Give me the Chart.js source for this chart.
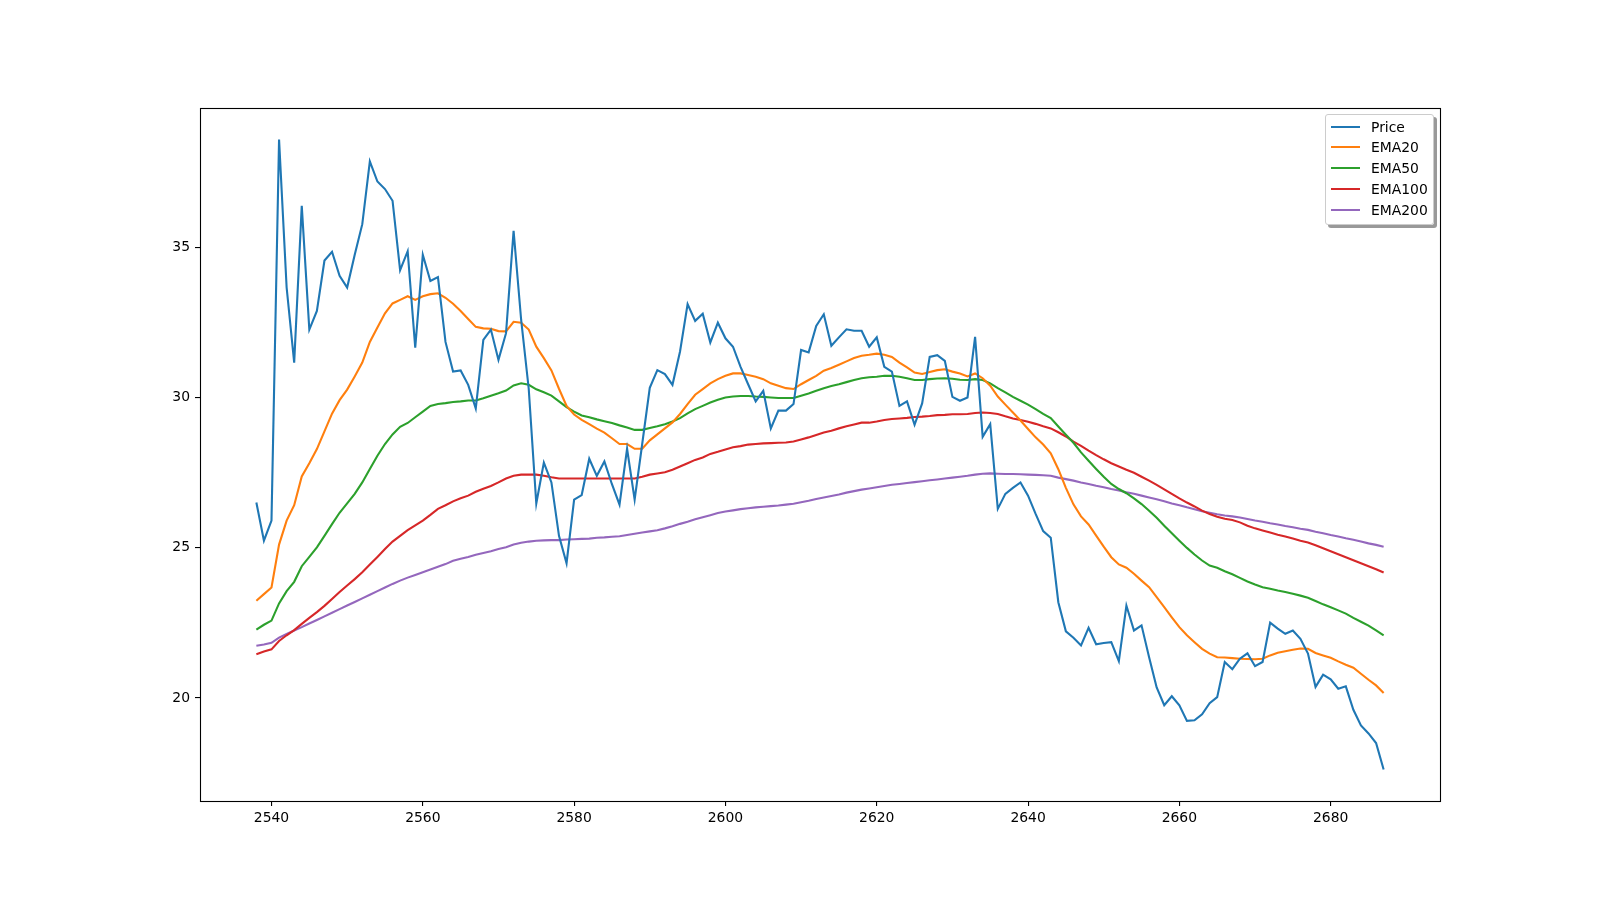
<!DOCTYPE html>
<html>
<head>
<meta charset="utf-8">
<script src="https://cdn.jsdelivr.net/npm/chart.js@4.4.0/dist/chart.umd.min.js"></script>
<style>
html,body{margin:0;padding:0;background:#fff;}
#wrap{position:relative;width:1600px;height:900px;}
#legend{position:absolute;left:1325px;top:114px;width:107px;height:109px;background:rgba(255,255,255,0.8);border:1px solid #cccccc;border-radius:3px;box-shadow:3px 3px 0 rgba(0,0,0,0.4);font-family:"DejaVu Sans";font-size:13.9px;color:#000;}
.row{position:absolute;left:0;height:20px;line-height:20px;width:100%;}
.sw{position:absolute;left:5px;top:9px;width:29px;height:2px;}
.lbl{position:absolute;left:45px;top:0;white-space:nowrap;}
</style>
</head>
<body>
<div id="wrap">
<canvas id="c" width="1600" height="900"></canvas>
<div id="legend"></div>
</div>
<script>
const dates = [
2538,2539,2540,2541,2542,2543,2544,2545,2546,2547,
2548,2549,2550,2551,2552,2553,2554,2555,2556,2557,
2558,2559,2560,2561,2562,2563,2564,2565,2566,2567,
2568,2569,2570,2571,2572,2573,2574,2575,2576,2577,
2578,2579,2580,2581,2582,2583,2584,2585,2586,2587,
2588,2589,2590,2591,2592,2593,2594,2595,2596,2597,
2598,2599,2600,2601,2602,2603,2604,2605,2606,2607,
2608,2609,2610,2611,2612,2613,2614,2615,2616,2617,
2618,2619,2620,2621,2622,2623,2624,2625,2626,2627,
2628,2629,2630,2631,2632,2633,2634,2635,2636,2637,
2638,2639,2640,2641,2642,2643,2644,2645,2646,2647,
2648,2649,2650,2651,2652,2653,2654,2655,2656,2657,
2658,2659,2660,2661,2662,2663,2664,2665,2666,2667,
2668,2669,2670,2671,2672,2673,2674,2675,2676,2677,
2678,2679,2680,2681,2682,2683,2684,2685,2686,2687];

const price = [
26.51,25.24,25.91,38.60,33.67,31.17,36.39,32.27,32.89,34.57,
34.86,34.06,33.67,34.76,35.78,37.87,37.20,36.95,36.56,34.25,
34.88,31.67,34.76,33.89,34.02,31.86,30.87,30.91,30.43,29.64,
31.93,32.27,31.26,32.15,35.56,32.59,30.30,26.48,27.84,27.18,
25.40,24.49,26.61,26.76,27.97,27.40,27.88,27.12,26.44,28.30,
26.61,28.46,30.33,30.92,30.79,30.43,31.54,33.12,32.56,32.80,
31.84,32.50,31.98,31.70,31.03,30.45,29.88,30.23,28.98,29.57,
29.57,29.79,31.59,31.51,32.39,32.78,31.73,32.01,32.28,32.23,
32.23,31.70,32.01,31.03,30.87,29.73,29.88,29.10,29.81,31.36,
31.42,31.23,30.03,29.90,30.01,32.03,28.70,29.12,26.30,26.80,
27.00,27.18,26.74,26.13,25.56,25.34,23.19,22.22,22.01,21.75,
22.34,21.79,21.83,21.86,21.23,23.08,22.25,22.42,21.36,20.35,
19.76,20.06,19.76,19.24,19.26,19.46,19.83,20.03,21.20,20.96,
21.31,21.49,21.06,21.20,22.51,22.31,22.14,22.25,21.97,21.48,
20.37,20.78,20.62,20.31,20.39,19.61,19.09,18.82,18.50,17.62];

const ema20 = [
23.24,23.46,23.68,25.11,25.91,26.42,27.38,27.82,28.29,28.88,
29.47,29.92,30.27,30.71,31.17,31.86,32.34,32.81,33.14,33.26,
33.38,33.26,33.38,33.45,33.48,33.33,33.13,32.89,32.62,32.36,
32.31,32.30,32.22,32.21,32.53,32.50,32.27,31.70,31.32,30.91,
30.30,29.73,29.44,29.26,29.12,28.97,28.84,28.65,28.46,28.46,
28.30,28.30,28.58,28.78,28.98,29.18,29.46,29.79,30.10,30.29,
30.48,30.62,30.73,30.81,30.81,30.76,30.70,30.62,30.48,30.40,
30.32,30.29,30.45,30.59,30.73,30.90,30.99,31.10,31.21,31.32,
31.40,31.43,31.47,31.43,31.36,31.17,31.01,30.84,30.79,30.86,
30.92,30.95,30.87,30.81,30.71,30.81,30.65,30.40,30.04,29.77,
29.51,29.24,28.96,28.68,28.44,28.15,27.62,27.00,26.45,26.05,
25.78,25.41,25.04,24.69,24.45,24.34,24.14,23.91,23.69,23.36,
23.03,22.69,22.36,22.09,21.86,21.64,21.48,21.36,21.35,21.33,
21.31,21.30,21.29,21.31,21.42,21.51,21.56,21.61,21.65,21.64,
21.50,21.42,21.34,21.22,21.11,21.01,20.81,20.61,20.42,20.17];

const ema50 = [
22.28,22.44,22.58,23.15,23.56,23.87,24.39,24.70,25.02,25.40,
25.79,26.17,26.48,26.80,27.18,27.63,28.07,28.46,28.78,29.03,
29.16,29.35,29.54,29.73,29.79,29.82,29.86,29.88,29.91,29.91,
29.98,30.07,30.15,30.24,30.41,30.48,30.43,30.28,30.18,30.07,
29.88,29.69,29.54,29.41,29.35,29.28,29.22,29.16,29.08,29.01,
28.93,28.93,28.99,29.05,29.12,29.21,29.32,29.48,29.62,29.73,
29.84,29.93,30.01,30.04,30.06,30.06,30.04,30.03,30.01,29.99,
29.99,29.99,30.07,30.14,30.23,30.32,30.39,30.45,30.52,30.59,
30.65,30.68,30.70,30.73,30.73,30.70,30.65,30.59,30.59,30.62,
30.64,30.65,30.63,30.60,30.59,30.62,30.59,30.48,30.32,30.18,
30.03,29.90,29.77,29.62,29.46,29.32,29.04,28.77,28.50,28.18,
27.90,27.63,27.37,27.13,26.96,26.82,26.65,26.46,26.24,26.00,
25.74,25.49,25.24,25.00,24.78,24.58,24.41,24.34,24.22,24.12,
24.00,23.88,23.78,23.69,23.64,23.58,23.53,23.47,23.41,23.34,
23.23,23.12,23.02,22.92,22.81,22.67,22.54,22.41,22.25,22.09];

const ema100 = [
21.46,21.55,21.62,21.90,22.09,22.26,22.47,22.67,22.86,23.07,
23.30,23.53,23.75,23.96,24.19,24.45,24.70,24.96,25.21,25.40,
25.59,25.75,25.91,26.10,26.30,26.42,26.55,26.65,26.74,26.87,
26.97,27.06,27.18,27.31,27.40,27.44,27.44,27.44,27.40,27.35,
27.31,27.31,27.31,27.31,27.31,27.31,27.31,27.31,27.31,27.31,
27.31,27.37,27.44,27.48,27.52,27.60,27.71,27.82,27.93,28.01,
28.13,28.20,28.28,28.35,28.39,28.44,28.46,28.48,28.49,28.50,
28.51,28.54,28.61,28.68,28.76,28.84,28.90,28.98,29.05,29.11,
29.17,29.17,29.21,29.26,29.29,29.31,29.33,29.36,29.37,29.39,
29.42,29.43,29.45,29.45,29.46,29.49,29.51,29.49,29.46,29.38,
29.31,29.26,29.20,29.13,29.05,28.98,28.85,28.71,28.54,28.40,
28.24,28.09,27.95,27.82,27.71,27.60,27.50,27.37,27.24,27.10,
26.95,26.80,26.65,26.51,26.38,26.24,26.13,26.04,25.97,25.93,
25.85,25.74,25.65,25.58,25.51,25.44,25.38,25.31,25.24,25.18,
25.09,24.99,24.89,24.79,24.69,24.59,24.49,24.39,24.29,24.18];

const ema200 = [
21.74,21.78,21.84,22.01,22.13,22.25,22.36,22.48,22.60,22.72,
22.84,22.96,23.08,23.20,23.32,23.44,23.56,23.68,23.80,23.91,
24.01,24.10,24.19,24.28,24.37,24.46,24.57,24.64,24.70,24.77,
24.83,24.89,24.96,25.02,25.11,25.17,25.21,25.24,25.25,25.26,
25.26,25.28,25.29,25.30,25.31,25.34,25.35,25.37,25.39,25.43,
25.47,25.51,25.55,25.59,25.65,25.72,25.80,25.87,25.95,26.02,
26.09,26.16,26.21,26.25,26.29,26.32,26.35,26.37,26.39,26.41,
26.44,26.47,26.52,26.57,26.63,26.68,26.73,26.78,26.84,26.89,
26.94,26.98,27.02,27.06,27.10,27.13,27.16,27.19,27.22,27.25,
27.28,27.31,27.34,27.37,27.40,27.44,27.47,27.48,27.47,27.46,
27.46,27.45,27.44,27.43,27.42,27.40,27.34,27.29,27.24,27.18,
27.13,27.07,27.02,26.96,26.91,26.85,26.80,26.74,26.68,26.62,
26.55,26.48,26.42,26.35,26.29,26.22,26.17,26.12,26.08,26.05,
26.01,25.96,25.91,25.87,25.82,25.78,25.73,25.69,25.64,25.60,
25.54,25.49,25.43,25.38,25.32,25.27,25.21,25.15,25.10,25.04];

const seriesNames = ["Price", "EMA20", "EMA50", "EMA100", "EMA200"];
const seriesValues = [price, ema20, ema50, ema100, ema200];
const seriesColors = ["#1f77b4", "#ff7f0e", "#2ca02c", "#d62728", "#9467bd"];

const xTicks = [2540, 2560, 2580, 2600, 2620, 2640, 2660, 2680];
const yTicks = [20, 25, 30, 35];

// axis limits like matplotlib: data range plus 5% margins
const xMinData = Math.min(...dates), xMaxData = Math.max(...dates);
const xPad = (xMaxData - xMinData) * 0.05;
const allY = [].concat(...seriesValues);
const yMinData = Math.min(...allY), yMaxData = Math.max(...allY);
const yPad = (yMaxData - yMinData) * 0.05;

const FONT = "DejaVu Sans";
const FS = 13.9;

const frame = {
  id: 'frame',
  afterDatasetsDraw(chart) {
    const {ctx, chartArea: a} = chart;
    ctx.save();
    ctx.strokeStyle = '#000';
    ctx.lineWidth = 1.1;
    ctx.strokeRect(Math.round(a.left) + 0.5, Math.round(a.top) + 0.5,
                   Math.round(a.right - a.left), Math.round(a.bottom - a.top));
    ctx.restore();
  }
};

new Chart(document.getElementById('c'), {
  type: 'line',
  data: {
    datasets: seriesNames.map((n, k) => ({
      label: n,
      data: dates.map((d, i) => ({x: d, y: seriesValues[k][i]})),
      borderColor: seriesColors[k],
      backgroundColor: seriesColors[k],
      borderWidth: 2.1,
      pointRadius: 0,
      tension: 0,
      fill: false
    }))
  },
  options: {
    responsive: false,
    animation: false,
    layout: {padding: {left: 0, right: 160, top: 108, bottom: 0}},
    plugins: {legend: {display: false}, tooltip: {enabled: false}},
    scales: {
      x: {
        type: 'linear',
        min: xMinData - xPad,
        max: xMaxData + xPad,
        afterBuildTicks: s => { s.ticks = xTicks.map(v => ({value: v})); },
        afterFit: s => { s.height = 99; },
        grid: {display: true, drawOnChartArea: false, drawTicks: true, tickLength: 5, color: '#000', lineWidth: 1.1},
        border: {display: false},
        ticks: {font: {family: FONT, size: FS}, color: '#000', padding: 4, maxRotation: 0, autoSkip: false,
                callback: v => String(v)}
      },
      y: {
        type: 'linear',
        min: yMinData - yPad,
        max: yMaxData + yPad,
        afterBuildTicks: s => { s.ticks = yTicks.map(v => ({value: v})); },
        afterFit: s => { s.width = 200; },
        grid: {display: true, drawOnChartArea: false, drawTicks: true, tickLength: 5, color: '#000', lineWidth: 1.1},
        border: {display: false},
        ticks: {font: {family: FONT, size: FS}, color: '#000', padding: 5, autoSkip: false,
                callback: v => String(v)}
      }
    }
  },
  plugins: [frame]
});

// legend (HTML, real text)
const lg = document.getElementById('legend');
const rowCenters = [11.7, 32.4, 53.1, 73.8, 94.5];
seriesNames.forEach((n, k) => {
  const r = document.createElement('div');
  r.className = 'row';
  r.style.top = (rowCenters[k] - 10) + 'px';
  const sw = document.createElement('div');
  sw.className = 'sw';
  sw.style.background = seriesColors[k];
  const t = document.createElement('span');
  t.className = 'lbl';
  t.textContent = n;
  r.appendChild(sw); r.appendChild(t);
  lg.appendChild(r);
});
</script>
</body>
</html>
